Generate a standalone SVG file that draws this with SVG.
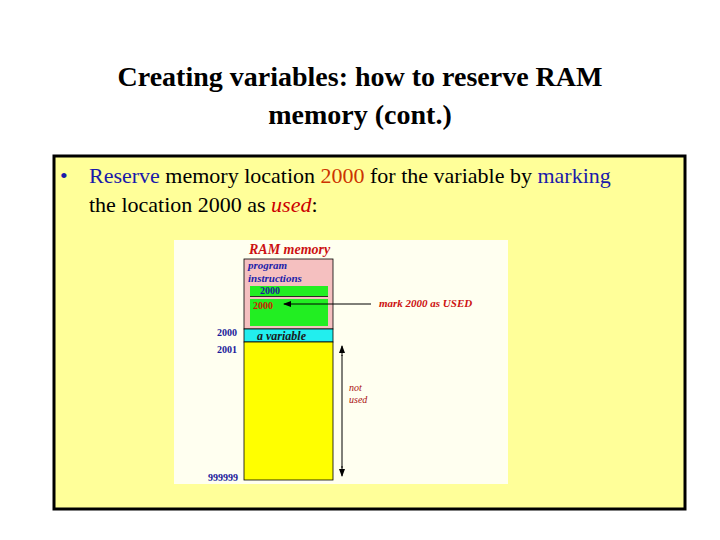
<svg xmlns="http://www.w3.org/2000/svg" width="720" height="540" viewBox="0 0 720 540">
<style>
.t{font-family:"Liberation Serif",serif}
.bi{font-family:"Liberation Serif",serif;font-weight:bold;font-style:italic}
.n{font-family:"Liberation Serif",serif;font-weight:bold;font-size:10px;fill:#1a1a9a}
</style>
<defs>
<marker id="ah" markerWidth="8" markerHeight="6" refX="7" refY="3" orient="auto"><path d="M0,0L8,3L0,6z" fill="#000"/></marker>
</defs>
<rect width="720" height="540" fill="#fff"/>
<g id="title" class="t" font-size="28" font-weight="bold" text-anchor="middle" fill="#000">
<text x="360" y="86">Creating variables: how to reserve RAM</text>
<text x="360" y="124">memory (cont.)</text>
</g>
<g id="box">
<rect x="54" y="156" width="631" height="353" fill="#ffff99" stroke="#000" stroke-width="3"/>
<text class="t" font-size="22" x="60" y="183" fill="#1a1aaa">•</text>
<text class="t" font-size="22" x="89" y="183"><tspan fill="#1a1aaa">Reserve</tspan> memory location <tspan fill="#cc3300">2000</tspan> for the variable by <tspan fill="#1a1aaa">marking</tspan></text>
<text class="t" font-size="22" x="89" y="212">the location 2000 as <tspan fill="#cc0000" font-style="italic">used</tspan>:</text>
</g>
<g id="picture">
<rect x="174" y="240" width="334" height="244" fill="#fffff0"/>
<text class="bi" font-size="14" x="249" y="254" fill="#cc1111">RAM memory</text>
<rect x="244" y="259" width="89" height="70" fill="#f5c0c0" stroke="#000" stroke-width="0.8"/>
<text class="bi" font-size="11" x="248" y="269" fill="#2222aa">program</text>
<text class="bi" font-size="11" x="248" y="282" fill="#2222aa">instructions</text>
<rect x="250" y="286" width="78" height="10" fill="#22ee22"/>
<line x1="250" y1="296.5" x2="328" y2="296.5" stroke="#000" stroke-width="0.8"/>
<text class="n" x="260" y="294" fill="#1a1a9a">2000</text>
<rect x="250" y="299" width="78" height="27" fill="#22ee22"/>
<text x="253" y="309" font-family="Liberation Serif,serif" font-weight="bold" font-size="10" fill="#cc2200">2000</text>
<rect x="244" y="329" width="89" height="13" fill="#22eeee" stroke="#000" stroke-width="0.8"/>
<text class="bi" font-size="12" x="257" y="340" fill="#1a1a1a">a variable</text>
<rect x="244" y="342" width="89" height="138" fill="#ffff00" stroke="#000" stroke-width="0.8"/>
<text class="n" x="217" y="336">2000</text>
<text class="n" x="217" y="353">2001</text>
<text class="n" x="208" y="481">999999</text>
<line x1="371" y1="304" x2="284" y2="304" stroke="#000" stroke-width="1" marker-end="url(#ah)"/>
<text class="bi" font-size="11" x="379" y="307" fill="#cc1111">mark 2000 as USED</text>
<line x1="342" y1="355" x2="342" y2="468" stroke="#000" stroke-width="1"/>
<line x1="342" y1="356" x2="342" y2="346" stroke="#000" stroke-width="1" marker-end="url(#ah)"/>
<line x1="342" y1="466" x2="342" y2="476" stroke="#000" stroke-width="1" marker-end="url(#ah)"/>
<text class="t" font-style="italic" font-size="10" x="349" y="391" fill="#aa1111">not</text>
<text class="t" font-style="italic" font-size="10" x="349" y="403" fill="#aa1111">used</text>
</g>
</svg>
